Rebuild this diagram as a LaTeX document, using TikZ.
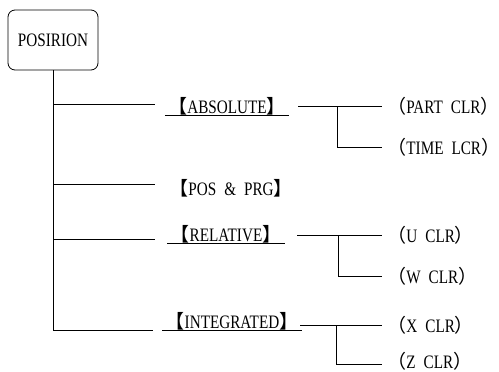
\documentclass[tikz,border=0pt]{standalone}
\usepackage{fontspec}
\setmainfont{Liberation Serif}[FakeStretch=0.8]
\newfontfamily\cjk{Noto Sans CJK SC}
\newcommand{\wsp}{\hspace{8pt}}
\begin{document}
\begin{tikzpicture}[x=1pt,y=-1pt,line width=0.8pt,
  every node/.style={font=\fontsize{19}{22}\selectfont, inner sep=0pt},
  rootbox/.style={draw, rounded corners=7pt, minimum width=90pt, minimum height=60pt},
  mainlab/.style={inner xsep=3pt},
  childlab/.style={anchor=west},
  uline/.style={line width=0.8pt}]
\useasboundingbox (0,0) rectangle (499,372);
% root
\node[rootbox] (root) at (53,40) {POSIRION};
% main labels
\node[mainlab] (abs) at (227,106) {{\cjk 【}ABSOLUTE{\cjk 】}};
\node[mainlab, anchor=west] (pp) at (166,188) {{\cjk 【}POS\wsp\&\wsp PRG{\cjk 】}};
\node[mainlab] (rel) at (226,234) {{\cjk 【}RELATIVE{\cjk 】}};
\node[mainlab] (int) at (232,321) {{\cjk 【}INTEGRATED{\cjk 】}};
\draw[uline] (abs.south west) -- (abs.south east);
\draw[uline] (rel.south west) -- (rel.south east);
\draw[uline] (int.south west) -- (int.south east);
% children
\node[childlab] (pc) at (387,106) {{\cjk （}PART\wsp CLR{\cjk ）}};
\node[childlab] (tl) at (387,147) {{\cjk （}TIME\wsp LCR{\cjk ）}};
\node[childlab] (uc) at (387,235) {{\cjk （}U\wsp CLR{\cjk ）}};
\node[childlab] (wc) at (387,276) {{\cjk （}W\wsp CLR{\cjk ）}};
\node[childlab] (xc) at (387,325) {{\cjk （}X\wsp CLR{\cjk ）}};
\node[childlab] (zc) at (387,361) {{\cjk （}Z\wsp CLR{\cjk ）}};
% trunk and branches
\coordinate (t1) at (53,104);
\coordinate (t2) at (53,184);
\coordinate (t3) at (53,239);
\coordinate (t4) at (53,330);
\coordinate (e1) at (155,104);
\coordinate (e2) at (155,184);
\coordinate (e3) at (155,239);
\coordinate (e4) at (153,330);
\draw (root.south) -- (t4) -- (e4);
\draw (t1) -- (e1);
\draw (t2) -- (e2);
\draw (t3) -- (e3);
% right sides
\coordinate (a1) at (298,106);
\coordinate (j1) at (337,106);
\coordinate (a3) at (297,235);
\coordinate (j3) at (338,235);
\coordinate (a4) at (300,325);
\coordinate (j4) at (336,325);
\coordinate (k1) at (382,106);
\coordinate (k2) at (382,147);
\coordinate (k3) at (382,235);
\coordinate (k4) at (382,276);
\coordinate (k5) at (382,325);
\coordinate (k6) at (382,364);
\draw (a1) -- (k1);
\draw (j1) |- (k2);
\draw (a3) -- (k3);
\draw (j3) |- (k4);
\draw (a4) -- (k5);
\draw (j4) |- (k6);
\end{tikzpicture}
\end{document}
